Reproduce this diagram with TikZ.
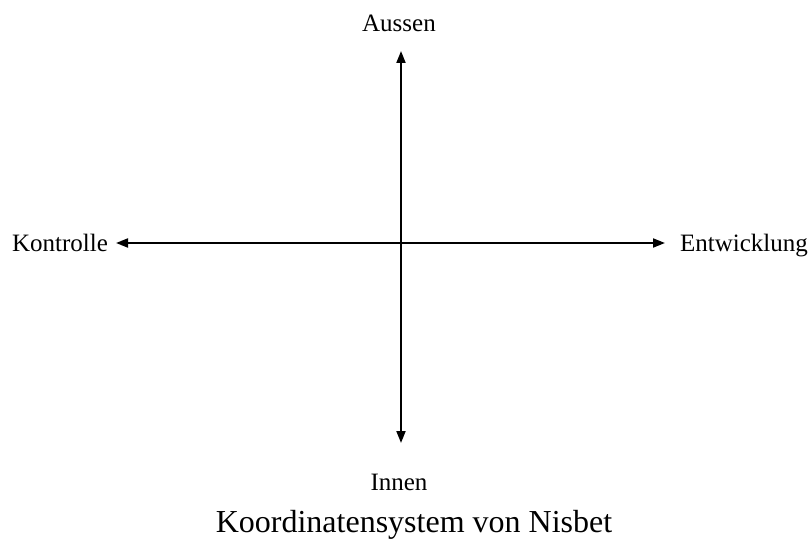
\documentclass[tikz,border=0pt]{standalone}
\usepackage{fontspec}
\setmainfont{Liberation Serif}
\usetikzlibrary{arrows.meta}
\tikzset{
  axisline/.style={line width=1.8pt, {Triangle[length=12pt,width=9pt]}-{Triangle[length=12pt,width=9pt]}},
  lbl/.style={inner sep=0pt, anchor=base, font=\fontsize{25}{30}\selectfont},
  ttl/.style={inner sep=0pt, anchor=base, font=\fontsize{32}{38}\selectfont}
}
\begin{document}
\begin{tikzpicture}[x=1pt,y=-1pt]
\useasboundingbox (0,0) rectangle (812,540);
\coordinate (top) at (401,51);
\coordinate (bot) at (401,443);
\coordinate (lft) at (116,243);
\coordinate (rgt) at (665,243);
\draw[axisline] (top) -- (bot);
\draw[axisline] (lft) -- (rgt);
\node[lbl] (aussen) at (399,32) {Aussen};
\node[lbl] (innen) at (399,490) {Innen};
\node[lbl] (kontrolle) at (60,252) {Kontrolle};
\node[lbl] (entw) at (744,252) {Entwicklung};
\node[ttl] (title) at (414,532) {Koordinatensystem von Nisbet};
\end{tikzpicture}
\end{document}
